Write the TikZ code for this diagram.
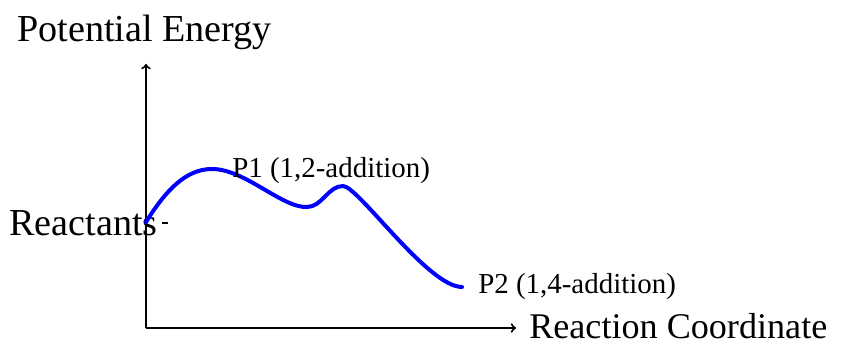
\documentclass[tikz,border=0pt]{standalone}
\usepackage{fontspec}
\setmainfont{Liberation Serif}
\begin{document}
\begin{tikzpicture}[x=0.75pt,y=-0.75pt,
  lbl/.style={anchor=base west,inner sep=0pt,font=\fontsize{28.6}{31}\selectfont},
  sml/.style={anchor=base west,inner sep=0pt,font=\fontsize{21.7}{24}\selectfont},
  axis/.style={line width=1.5pt,-to},
  curve/.style={blue,line width=3pt,line cap=round}]
\useasboundingbox (0,0) rectangle (845,342);
\coordinate (O) at (146,328);
\coordinate (ytop) at (146,64);
\coordinate (xend) at (516,328);
\draw[axis] (O) -- (ytop);
\draw[axis] (O) -- (xend);
\node[lbl] (pe) at (17,42) {Potential Energy};
\node[lbl,font=\fontsize{27.1}{30}\selectfont] (rc) at (529,338) {Reaction Coordinate};
\node[lbl] (re) at (9,235) {Reactants};
\coordinate (t1) at (162,223);
\coordinate (t2) at (168,223);
\draw[line width=0.8pt] (t1) -- (t2);
\coordinate (c0) at (146,222);
\coordinate (c1) at (212,169);
\coordinate (c2) at (307,207);
\coordinate (c3) at (343,186);
\coordinate (c4) at (462,287);
\draw[curve] (c0) .. controls (166,190) and (186,169) .. (c1)
  .. controls (245,169) and (282,208) .. (c2)
  .. controls (322,207) and (328,186) .. (c3)
  .. controls (358,186) and (428,287) .. (c4);
\node[sml] (p1) at (232,177) {P1 (1,2-addition)};
\node[sml] (p2) at (478,293) {P2 (1,4-addition)};
\end{tikzpicture}
\end{document}
